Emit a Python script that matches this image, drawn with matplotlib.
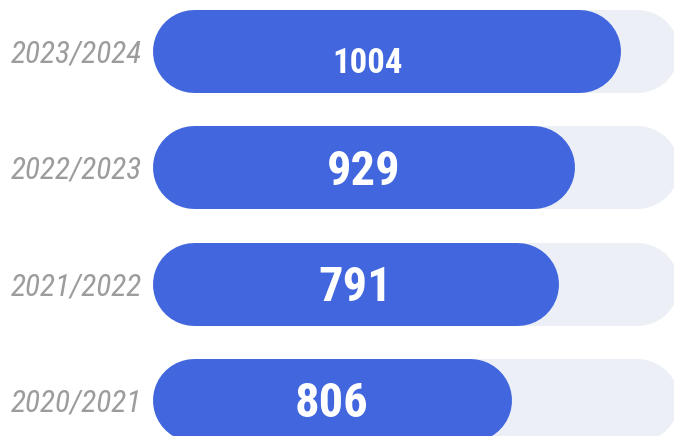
import matplotlib.pyplot as plt
from matplotlib.transforms import offset_copy

seasons = ['2023/2024', '2022/2023', '2021/2022', '2020/2021']
counts = [1004, 929, 791, 806]
# how far the blue bar reaches along its grey track (percent)
fill_pct = [89.0, 80.4, 77.2, 68.3]

blue = '#4166de'
track = '#eceff6'
label_grey = '#9c9c9c'
value_sizes = [25, 35, 35, 35]
# the top number sits a bit left of and below the bar centre in the original (pixels)
value_nudge = [(-19, -9), (0, -1), (0, -1), (0, -1)]

W, H = 674, 436
fig = plt.figure(figsize=(W / 100, H / 100), dpi=100)
fig.patch.set_facecolor('white')

# track runs from x=152px to 678px, bars spaced ~116px apart
track_px = 526
band_px = 116.3
bar_px = 83
ax = fig.add_axes([152 / W, (H - (51 + 3.5 * band_px)) / H, track_px / W, 4 * band_px / H])
ax.set_xlim(0, 100)
ax.set_ylim(3.5, -0.5)

lw = bar_px * 72 / 100
r = (bar_px / 2) / track_px * 100

for i, (c, p) in enumerate(zip(counts, fill_pct)):
    ax.plot([r, 100 - r], [i, i], color=track, lw=lw, solid_capstyle='round', zorder=1)
    ax.plot([r, p - r], [i, i], color=blue, lw=lw, solid_capstyle='round', zorder=2)
    dx, dy = value_nudge[i]
    tr = offset_copy(ax.transData, fig=fig, x=dx, y=dy, units='dots')
    ax.text(p / 2, i + 0.03, str(c), color='white', fontsize=value_sizes[i],
            fontweight='bold', family='Roboto Condensed', ha='center', va='center',
            zorder=3, transform=tr)

ax.set_yticks(range(len(seasons)), seasons)
for t in ax.get_yticklabels():
    t.set_family('Roboto Condensed')
    t.set_style('italic')
    t.set_fontsize(22.5)
    t.set_color(label_grey)
ax.tick_params(axis='y', length=0, pad=7)
ax.set_xticks([])
for s in ax.spines.values():
    s.set_visible(False)
ax.set_facecolor('none')

fig.savefig('out.png', dpi=100, facecolor='white')
